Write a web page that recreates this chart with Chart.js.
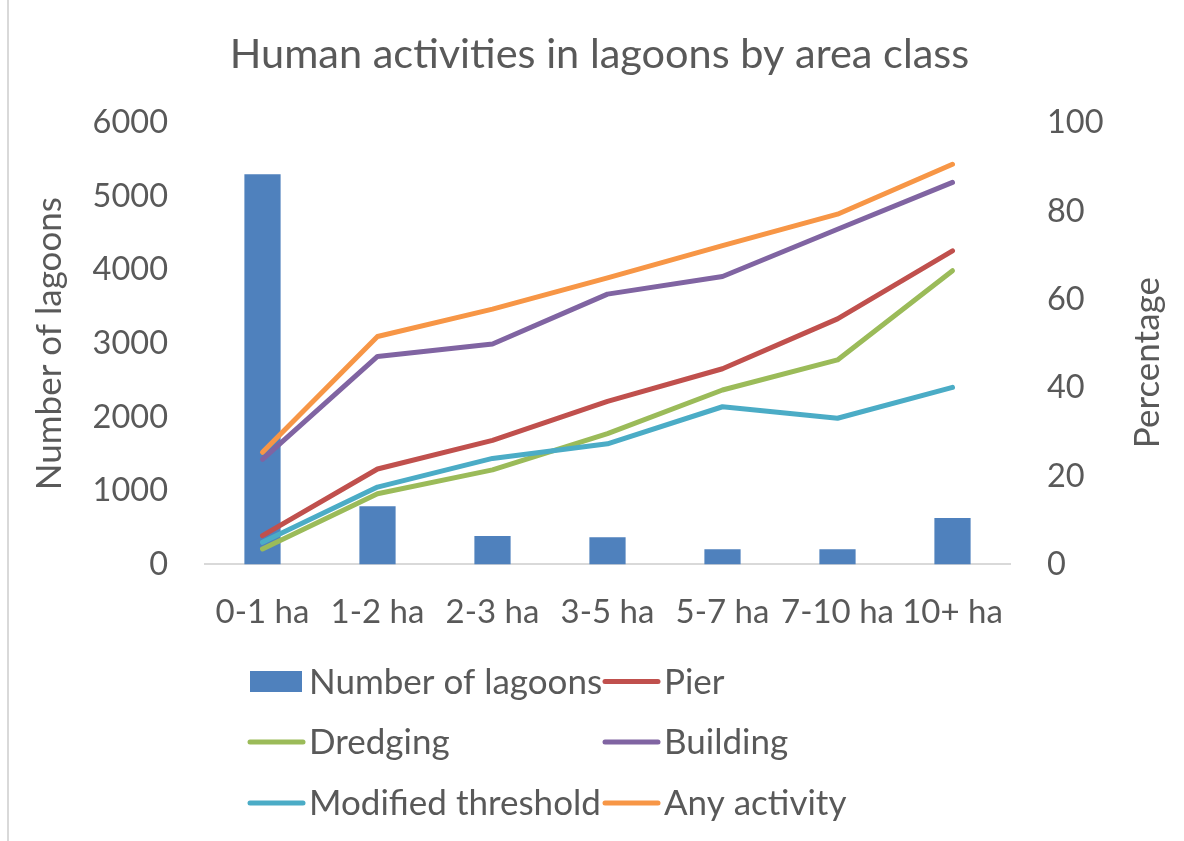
<!DOCTYPE html>
<html>
<head>
<meta charset="utf-8">
<script src="https://cdn.jsdelivr.net/npm/chart.js@4"></script>
<style>
  body { margin: 0; background: #fff; }
  #wrap { position: relative; width: 1184px; height: 841px; }
  #wrap::before { content: ''; position: absolute; left: 7px; top: 0; bottom: 0; border-left: 2px solid #d9d9d9; }
</style>
</head>
<body>
<div id="wrap"><canvas id="lagoonChart"></canvas></div>
<script>
const areaClasses = ['0-1 ha', '1-2 ha', '2-3 ha', '3-5 ha', '5-7 ha', '7-10 ha', '10+ ha'];
const lagoonCounts = [5300, 790, 385, 370, 205, 205, 630];
const pierPct = [6.5, 21.6, 28.1, 36.9, 44.3, 55.6, 71.0];
const dredgingPct = [3.5, 16.0, 21.4, 29.6, 39.5, 46.3, 66.5];
const buildingPct = [23.8, 47.1, 49.9, 61.2, 65.2, 75.9, 86.5];
const thresholdPct = [5.0, 17.5, 24.0, 27.3, 35.7, 33.1, 40.1];
const anyActivityPct = [25.4, 51.6, 57.8, 64.9, 72.2, 79.3, 90.6];

const textColor = '#595959';
const fontFamily = "Lato, 'Open Sans', sans-serif";

function lineSet(label, data, color, order) {
    return {
        type: 'line',
        label: label,
        data: data,
        yAxisID: 'yPct',
        borderColor: color,
        backgroundColor: color,
        borderWidth: 5,
        borderCapStyle: 'round',
        borderJoinStyle: 'round',
        pointRadius: 0,
        tension: 0,
        fill: false,
        order: order
    };
}

// legend in two columns + right axis title reading upwards, like the spreadsheet
const excelBits = {
    id: 'excelBits',
    afterDraw(chart) {
        const ctx = chart.ctx;
        const area = chart.chartArea;
        ctx.save();

        // right axis title
        ctx.font = '35px ' + fontFamily;
        ctx.fillStyle = textColor;
        ctx.textAlign = 'center';
        ctx.textBaseline = 'middle';
        ctx.translate(1148, (area.top + area.bottom) / 2 + 19);
        ctx.rotate(-Math.PI / 2);
        ctx.fillText('Percentage', 0, 0);
        ctx.setTransform(1, 0, 0, 1, 0, 0);

        const cols = [250, 605];
        const rows = [681.5, 742, 803];
        ctx.textAlign = 'left';
        chart.data.datasets.forEach((ds, i) => {
            const x = cols[i % 2];
            const y = rows[Math.floor(i / 2)];
            if (ds.type === 'line') {
                ctx.strokeStyle = ds.borderColor;
                ctx.lineWidth = 5;
                ctx.lineCap = 'round';
                ctx.beginPath();
                ctx.moveTo(x, y);
                ctx.lineTo(x + 53, y);
                ctx.stroke();
            } else {
                ctx.fillStyle = ds.backgroundColor;
                ctx.fillRect(x, y - 10.5, 52, 21);
            }
            ctx.fillStyle = textColor;
            ctx.fillText(ds.label, x + 59, y + 1);
        });
        ctx.restore();
    }
};

const ctx = document.getElementById('lagoonChart');

new Chart(ctx.getContext('2d'), {
    data: {
        labels: areaClasses,
        datasets: [
            {
                type: 'bar',
                label: 'Number of lagoons',
                data: lagoonCounts,
                yAxisID: 'yCount',
                backgroundColor: '#4F81BD',
                borderWidth: 0,
                categoryPercentage: 0.315,
                barPercentage: 1,
                order: 6
            },
            lineSet('Pier', pierPct, '#C0504D', 5),
            lineSet('Dredging', dredgingPct, '#9BBB59', 4),
            lineSet('Building', buildingPct, '#8064A2', 3),
            lineSet('Modified threshold', thresholdPct, '#4BACC6', 2),
            lineSet('Any activity', anyActivityPct, '#F79646', 1)
        ]
    },
    options: {
        responsive: true,
        maintainAspectRatio: false,
        animation: false,
        layout: {
            padding: { left: 15, right: 0, top: 0, bottom: 181 }
        },
        plugins: {
            legend: { display: false },
            tooltip: { enabled: false },
            title: {
                display: true,
                text: 'Human activities in lagoons by area class',
                color: textColor,
                font: { size: 41.5, family: fontFamily, weight: 'normal' },
                padding: { top: 30, bottom: 43 }
            }
        },
        scales: {
            x: {
                grid: { display: false, drawTicks: false },
                border: { display: true, color: '#d9d9d9', width: 2 },
                ticks: {
                    color: textColor,
                    font: { size: 33, family: fontFamily },
                    padding: 28,
                    maxRotation: 0,
                    autoSkip: false
                }
            },
            yCount: {
                position: 'left',
                min: 0,
                max: 6000,
                afterFit: (scale) => { scale.width = 190; },
                grid: { display: false, drawTicks: false },
                border: { display: false },
                ticks: {
                    stepSize: 1000,
                    color: textColor,
                    font: { size: 32.5, family: fontFamily },
                    padding: 37,
                    callback: (value) => String(value)
                },
                title: {
                    display: true,
                    text: 'Number of lagoons',
                    color: textColor,
                    font: { size: 35, family: fontFamily },
                    padding: { top: 14, bottom: 0 }
                }
            },
            yPct: {
                position: 'right',
                min: 0,
                max: 100,
                afterFit: (scale) => { scale.width = 174; },
                grid: { display: false, drawTicks: false },
                border: { display: false },
                ticks: {
                    stepSize: 20,
                    color: textColor,
                    font: { size: 32.5, family: fontFamily },
                    padding: 37,
                    callback: (value) => String(value)
                }
            }
        }
    },
    plugins: [excelBits]
});
</script>
</body>
</html>
